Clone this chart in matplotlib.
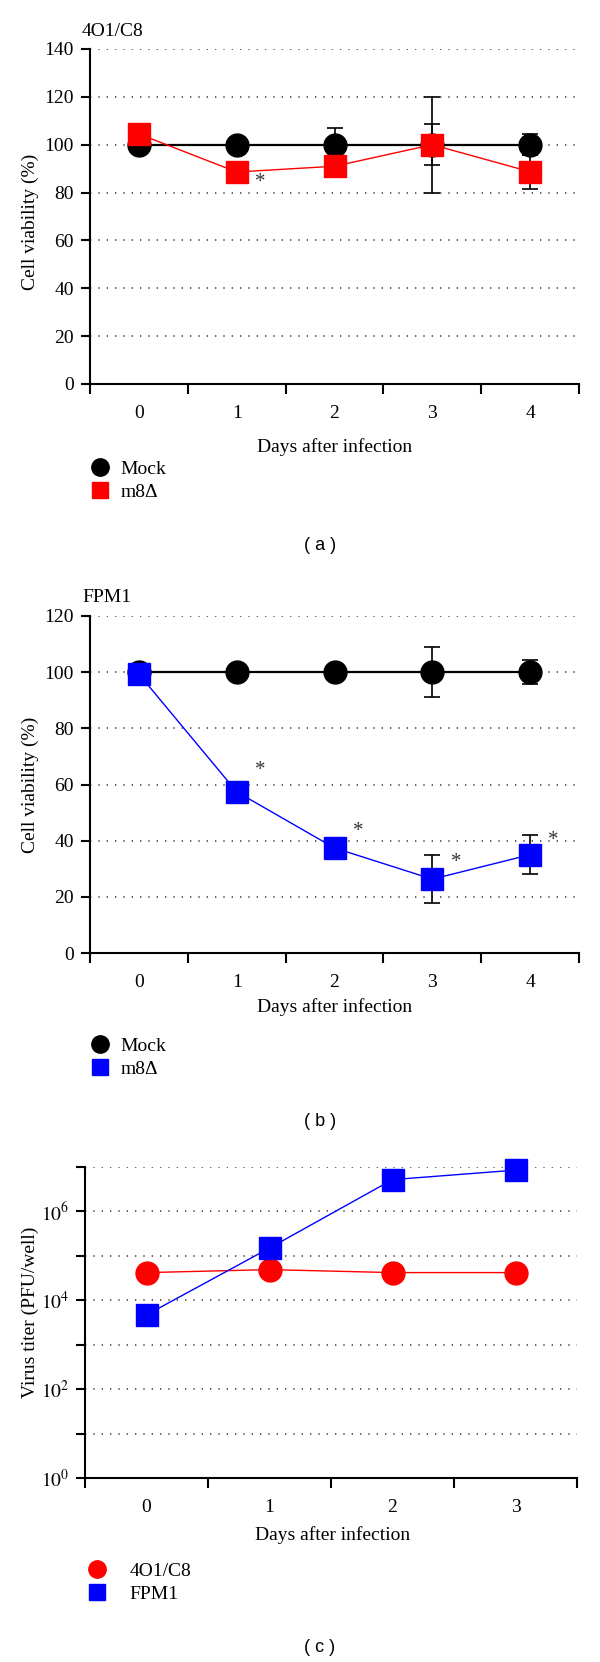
import numpy as np
import matplotlib
matplotlib.use("Agg")
from matplotlib import pyplot as plt
from matplotlib.lines import Line2D

plt.rcParams['font.family'] = ['Liberation Serif', 'DejaVu Serif']
plt.rcParams['mathtext.fontset'] = 'stix'

# data (a) 4O1/C8
days_ab = [0, 1, 2, 3, 4]
a_mock = [100, 100, 100, 100, 100]
a_mock_err = [1, 1, 7, 8.5, 4.3]
a_m8 = [104.5, 88.6, 91, 100, 88.7]
a_m8_err = [1, 1, 1, 20, 7.2]
a_star_days = [1]
a_star_vals = [84]

# data (b) FPM1
b_mock = [100, 100, 100, 100, 100]
b_mock_err = [1, 1, 1, 9, 4.3]
b_m8 = [99.3, 57.4, 37.4, 26.3, 35]
b_m8_err = [1, 1, 1, 8.5, 7]
b_star_days = [1, 2, 3, 4]
b_star_vals = [65, 43.4, 32.4, 40.2]

# data (c) virus titer
days_c = [0, 1, 2, 3]
c_4o1 = [4.2e4, 4.9e4, 4.2e4, 4.2e4]
c_fpm1 = [4.7e3, 1.5e5, 5.2e6, 8.5e6]

W, H = 600, 1662
FS = 14
fig = plt.figure(figsize=(W / 100, H / 100), dpi=100)

def fx(px):
    return px / W

def fy(py):
    return 1 - py / H

DOT = (0, (0.8, 4.2))
SANS = ['Liberation Sans', 'DejaVu Sans']


def style_axes(ax, xlim):
    for s in ['top', 'right']:
        ax.spines[s].set_visible(False)
    for s in ['left', 'bottom']:
        ax.spines[s].set_linewidth(1.5)
        ax.spines[s].set_zorder(5)
    ax.set_xlim(*xlim)
    ax.set_xticks(np.arange(xlim[0], xlim[1] + 0.01, 1.0))
    ax.set_xticks(np.arange(xlim[0] + 0.5, xlim[1], 1.0), minor=True)
    ax.set_xticklabels([])
    ax.set_xticklabels([str(int(v)) for v in np.arange(xlim[0] + 0.5, xlim[1], 1.0)], minor=True)
    ax.tick_params(axis='x', which='major', length=7, width=1.5, direction='out')
    ax.tick_params(axis='x', which='minor', length=0, pad=15, labelsize=FS)
    ax.tick_params(axis='y', which='major', length=6.5, width=1.5, pad=5, labelsize=FS)
    ax.tick_params(axis='y', which='minor', length=0)
    ax.grid(axis='y', which='major', linestyle=DOT, color='#444444', linewidth=1.2)
    ax.set_axisbelow(True)


def viability_panel(rect_px, ymax, mock, mock_err, m8, m8_err, color, sx, sy, title):
    l, t_, r, b = rect_px
    ax = fig.add_axes([fx(l), fy(b), fx(r - l), (b - t_) / H])
    # error bars sit behind all markers
    ax.errorbar(days_ab, mock, yerr=mock_err, fmt='none', ecolor='black', elinewidth=1.2,
                capsize=6, capthick=1.2, zorder=2)
    ax.errorbar(days_ab, m8, yerr=m8_err, fmt='none', ecolor='black', elinewidth=1.2,
                capsize=6, capthick=1.2, zorder=2)
    ax.plot(days_ab, mock, color='black', lw=1.6, marker='o', ms=16.5, zorder=3, clip_on=False)
    ax.plot(days_ab, m8, color=color, lw=1.0, marker='s', ms=16, zorder=4, clip_on=False)
    for d, v in zip(sx, sy):
        ax.text(d + 0.24, v, '*', fontsize=15, ha='center', va='center', color='#333333')
    ax.set_ylim(0, ymax)
    ax.set_yticks(np.arange(0, ymax + 1, 20))
    style_axes(ax, (-0.5, 4.5))
    fig.text(fx(l - 8), fy(t_ - 18), title, fontsize=FS, ha='left', va='center')
    return ax


def legend(ax, handles, labels, x, y, pad):
    ax.legend(handles, labels, loc='upper left', bbox_to_anchor=(fx(x), fy(y)),
              bbox_transform=fig.transFigure, frameon=False, fontsize=FS,
              handlelength=1.0, handletextpad=pad, labelspacing=0.3, borderpad=0,
              borderaxespad=0)


# (a)
ax1 = viability_panel((90, 49, 579, 384), 140, a_mock, a_mock_err, a_m8, a_m8_err,
                      '#ff0000', a_star_days, a_star_vals, '4O1/C8')
fig.text(fx(30), fy(222), 'Cell viability (%)', rotation=90, fontsize=FS, ha='center', va='center')
fig.text(fx(335), fy(447), 'Days after infection', fontsize=FS, ha='center', va='center')
legend(ax1, [Line2D([], [], ls='none', marker='o', ms=12.5, color='black'),
             Line2D([], [], ls='none', marker='s', ms=11, color='#ff0000')],
       ['Mock', 'm8\u0394'], 90, 460, 0.55)
fig.text(fx(320), fy(545), '( a )', fontsize=13, family=SANS, ha='center', va='center')

# (b)
ax2 = viability_panel((90, 616, 579, 953), 120, b_mock, b_mock_err, b_m8, b_m8_err,
                      '#0000ff', b_star_days, b_star_vals, 'FPM1')
fig.text(fx(30), fy(785), 'Cell viability (%)', rotation=90, fontsize=FS, ha='center', va='center')
fig.text(fx(335), fy(1007), 'Days after infection', fontsize=FS, ha='center', va='center')
legend(ax2, [Line2D([], [], ls='none', marker='o', ms=12.5, color='black'),
             Line2D([], [], ls='none', marker='s', ms=11, color='#0000ff')],
       ['Mock', 'm8\u0394'], 90, 1037, 0.55)
fig.text(fx(320), fy(1122), '( b )', fontsize=13, family=SANS, ha='center', va='center')

# (c)
ax3 = fig.add_axes([fx(85), fy(1478), fx(577 - 85), (1478 - 1167) / H])
ax3.set_yscale('log')
ax3.plot(days_c, c_4o1, color='#ff0000', lw=1.0, marker='o', ms=16.5, zorder=3, clip_on=False)
ax3.plot(days_c, c_fpm1, color='#0000ff', lw=1.0, marker='s', ms=16.5, zorder=4, clip_on=False)
ax3.set_ylim(1, 1e7)
ax3.set_yticks([10.0 ** k for k in range(8)])
ax3.set_yticklabels([r'$10^{%d}$' % k if k % 2 == 0 else '' for k in range(8)])
ax3.yaxis.set_minor_locator(matplotlib.ticker.NullLocator())
style_axes(ax3, (-0.5, 3.5))
fig.text(fx(30), fy(1312), 'Virus titer (PFU/well)', rotation=90, fontsize=FS, ha='center', va='center')
fig.text(fx(333), fy(1535), 'Days after infection', fontsize=FS, ha='center', va='center')
legend(ax3, [Line2D([], [], ls='none', marker='o', ms=12.5, color='#ff0000'),
             Line2D([], [], ls='none', marker='s', ms=11, color='#0000ff')],
       ['4O1/C8', 'FPM1'], 87, 1562, 1.2)
fig.text(fx(320), fy(1647), '( c )', fontsize=13, family=SANS, ha='center', va='center')

fig.savefig('out.png', dpi=100)
